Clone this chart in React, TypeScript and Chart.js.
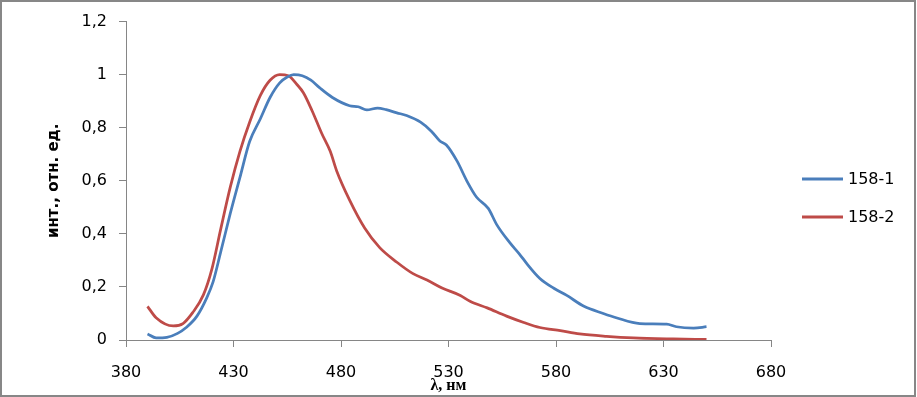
import React, { useEffect, useRef } from "react";
import { Chart, registerables } from "chart.js";

Chart.register(...registerables);

// ---- Data ----
const series1Label = "158-1";
const series1Lambda = [390, 394, 399, 404, 408, 413, 417.5, 420.5, 424, 428.5, 433, 437.5, 442.5, 447, 451.5, 455, 458, 462, 466, 470, 476, 484, 488, 492, 497, 501, 506, 510.5, 517, 522, 526, 529, 534, 538.5, 543, 548.5, 552.5, 558.5, 563, 566.5, 572.5, 579, 585, 593, 602, 608, 619, 631.5, 636, 644, 650];
const series1Values = [0.023, 0.008, 0.010, 0.025, 0.047, 0.090, 0.158, 0.219, 0.330, 0.477, 0.613, 0.748, 0.834, 0.914, 0.969, 0.991, 1.0, 0.996, 0.979, 0.951, 0.914, 0.883, 0.879, 0.867, 0.874, 0.868, 0.856, 0.846, 0.821, 0.787, 0.750, 0.735, 0.674, 0.600, 0.539, 0.496, 0.434, 0.367, 0.324, 0.287, 0.232, 0.195, 0.168, 0.127, 0.100, 0.084, 0.062, 0.060, 0.050, 0.045, 0.050];

const series2Label = "158-2";
const series2Lambda = [390, 394, 402, 406.5, 411, 416, 420, 424, 428.5, 433, 437.5, 442.5, 447, 451.5, 455.5, 459.5, 462.5, 466.5, 471, 475, 478, 484, 491, 498, 506, 513.5, 520, 527, 535.5, 540, 548, 557, 565, 572.5, 582, 591, 603.5, 616, 634.5, 650];
const series2Values = [0.127, 0.084, 0.053, 0.062, 0.103, 0.170, 0.269, 0.416, 0.576, 0.711, 0.821, 0.922, 0.979, 1.0, 0.996, 0.963, 0.932, 0.865, 0.779, 0.711, 0.637, 0.527, 0.422, 0.348, 0.293, 0.250, 0.226, 0.196, 0.168, 0.146, 0.121, 0.090, 0.066, 0.047, 0.035, 0.023, 0.014, 0.008, 0.004, 0.002];

const xMin = 380;
const xMax = 680;
const xStep = 50;
const yMin = 0;
const yMax = 1.2;
const yStep = 0.2;
const xTitle = "λ, нм";
const yTitle = "инт., отн. ед.";

const colors = ["#4A7EBB", "#BE4B48"];

const W = 917;
const H = 397;

const framePlugin = {
  id: "frameAndLegend",
  afterDraw(chart: any) {
    const ctx = chart.ctx;
    ctx.save();
    // outer frame
    ctx.strokeStyle = "#878787";
    ctx.lineWidth = 2;
    ctx.strokeRect(1, 1, 914, 395);
    // legend
    const ys = [179, 217];
    chart.data.datasets.forEach((ds: any, i: number) => {
      const y = ys[i];
      ctx.strokeStyle = ds.borderColor;
      ctx.lineWidth = 3;
      ctx.beginPath();
      ctx.moveTo(802, y);
      ctx.lineTo(843, y);
      ctx.stroke();
      ctx.fillStyle = "#000";
      ctx.font = "16px 'DejaVu Sans'";
      ctx.textBaseline = "middle";
      ctx.textAlign = "left";
      ctx.fillText(ds.label, 848, y + 1);
    });
    ctx.restore();
  },
};

export default function App() {
  const ref = useRef<HTMLCanvasElement | null>(null);
  useEffect(() => {
    if (!ref.current) return;
    const chart = new Chart(ref.current, {
      type: "line",
      data: {
        datasets: [
          {
            label: series1Label,
            data: series1Lambda.map((x, i) => ({ x, y: series1Values[i] })),
            borderColor: colors[0],
            backgroundColor: colors[0],
            borderWidth: 2.75,
            pointRadius: 0,
            cubicInterpolationMode: "monotone",
          },
          {
            label: series2Label,
            data: series2Lambda.map((x, i) => ({ x, y: series2Values[i] })),
            borderColor: colors[1],
            backgroundColor: colors[1],
            borderWidth: 2.75,
            pointRadius: 0,
            cubicInterpolationMode: "monotone",
          },
        ],
      },
      options: {
        responsive: false,
        animation: false,
        devicePixelRatio: 1,
        layout: { padding: { left: 0, top: 14, right: 146, bottom: 0 } },
        plugins: {
          legend: { display: false },
          tooltip: { enabled: false },
        },
        scales: {
          x: {
            type: "linear",
            min: xMin,
            max: xMax,
            ticks: {
              stepSize: xStep,
              color: "#000",
              font: { family: "'DejaVu Sans'", size: 16 },
              padding: 16,
              maxRotation: 0,
            },
            grid: {
              display: true,
              drawOnChartArea: false,
              drawTicks: true,
              tickLength: 7,
              color: "#868686",
            },
            border: { display: true, color: "#868686", width: 1 },
            title: {
              display: true,
              text: xTitle,
              color: "#000",
              font: { family: "'Liberation Serif'", size: 16, weight: "bold" },
              padding: { top: 0, bottom: 2 },
            },
            afterFit(scale: any) {
              scale.height = 57;
            },
          },
          y: {
            min: yMin,
            max: yMax,
            ticks: {
              stepSize: yStep,
              color: "#000",
              font: { family: "'DejaVu Sans'", size: 16 },
              padding: 12,
              callback: (v: any) => String(Number(Number(v).toFixed(1))).replace(".", ","),
            },
            grid: {
              display: true,
              drawOnChartArea: false,
              drawTicks: true,
              tickLength: 7,
              color: "#868686",
            },
            border: { display: true, color: "#868686", width: 1 },
            title: {
              display: true,
              text: yTitle,
              color: "#000",
              font: { family: "'DejaVu Sans'", size: 15, weight: "bold" },
              padding: { top: 45, bottom: 0 },
            },
            afterFit(scale: any) {
              scale.width = 126;
            },
          },
        },
      },
      plugins: [framePlugin],
    } as any);
    return () => chart.destroy();
  }, []);
  return (
    <div style={{ position: "fixed", left: 0, top: 0, width: W, height: H, background: "#fff" }}>
      <canvas ref={ref} width={W} height={H} style={{ display: "block", width: W, height: H }} />
    </div>
  );
}
